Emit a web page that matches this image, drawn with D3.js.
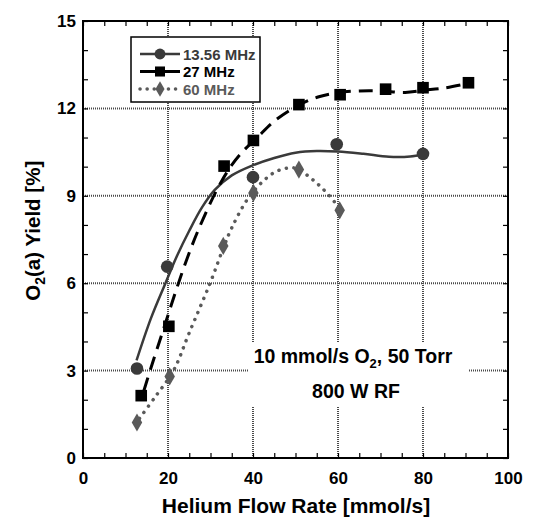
<!DOCTYPE html>
<html>
<head>
<meta charset="utf-8">
<script src="https://cdn.jsdelivr.net/npm/d3@7"></script>
<style>
  body { margin: 0; background: #fff; }
  text { font-family: "Liberation Sans", Arial, sans-serif; font-weight: bold; }
</style>
</head>
<body>
<script>
// 数据：测量点
const flow1356 = [12.7, 19.8, 40, 59.7, 80];
const yield1356 = [3.07, 6.57, 9.64, 10.77, 10.44];
const flow27 = [13.7, 20.2, 33.2, 40.1, 50.8, 60.5, 71.2, 80, 90.7];
const yield27 = [2.14, 4.52, 10.02, 10.9, 12.13, 12.47, 12.66, 12.71, 12.88];
const flow60 = [12.7, 20.4, 33, 40.1, 50.8, 60.4];
const yield60 = [1.22, 2.8, 7.28, 9.1, 9.9, 8.5];

// 数据：拟合曲线
const fitX1356 = [12.6, 16, 19.4, 22, 25, 28, 31, 35, 40, 45, 50, 55, 60, 66, 72, 77, 80];
const fitY1356 = [3.35, 4.8, 6.0, 6.9, 7.8, 8.6, 9.2, 9.7, 10.05, 10.3, 10.48, 10.54, 10.52, 10.44, 10.34, 10.35, 10.42];
const fitX27 = [14.3, 16, 18, 20, 22, 24.5, 27.2, 31.3, 34.5, 37.4, 41, 44.9, 50.6, 55.5, 60, 65, 70, 75.8, 80, 85, 89.4];
const fitY27 = [2.3, 3.1, 4.0, 4.9, 5.8, 6.85, 7.85, 9.15, 9.95, 10.49, 11.0, 11.55, 12.1, 12.4, 12.54, 12.6, 12.6, 12.55, 12.62, 12.7, 12.82];
const fitX60 = [13.3, 17, 21.3, 25, 29.9, 33, 35, 38.6, 42, 45, 48, 50.5, 53.4, 55.5, 57.6, 59.6, 60.5];
const fitY60 = [1.36, 2.1, 3.0, 4.3, 6.0, 7.2, 7.9, 8.86, 9.45, 9.8, 9.95, 9.93, 9.63, 9.37, 9.06, 8.71, 8.5];

// 坐标轴
const xTicks = [0, 20, 40, 60, 80, 100];
const yTicks = [0, 3, 6, 9, 12, 15];
const seriesNames = ['13.56 MHz', '27 MHz', '60 MHz'];
const note1 = '10 mmol/s O';
const note1b = ', 50 Torr';
const note2 = '800 W RF';
const xTitle = 'Helium Flow Rate [mmol/s]';

const width = 541, height = 521;
const margin = {left: 83, right: 33, top: 21, bottom: 63};

const svg = d3.select('body').append('svg')
    .attr('width', width)
    .attr('height', height);

const x = d3.scaleLinear().domain([0, 100]).range([margin.left, width - margin.right]);
const y = d3.scaleLinear().domain([0, 15]).range([height - margin.bottom, margin.top]);

// 网格线
const grid = svg.append('g');
grid.selectAll('.vg')
    .data(xTicks.slice(1, -1))
    .enter()
    .append('line')
    .attr('x1', d => x(d)).attr('x2', d => x(d))
    .attr('y1', y(0)).attr('y2', y(15));
grid.selectAll('.hg')
    .data(yTicks.slice(1, -1))
    .enter()
    .append('line')
    .attr('x1', x(0)).attr('x2', x(100))
    .attr('y1', d => y(d)).attr('y2', d => y(d));
grid.selectAll('line')
    .attr('stroke', '#4a4a4a')
    .attr('stroke-width', 2)
    .attr('stroke-dasharray', '1,1');

// 注释背景
svg.append('rect')
    .attr('x', 248).attr('y', 342)
    .attr('width', 220).attr('height', 65)
    .attr('fill', '#fff');

// 刻度
const fmtX = d => (d % 20 === 0 ? d : '');
const fmtY = d => (d % 3 === 0 ? d : '');
const axB = svg.append('g')
    .attr('transform', `translate(0,${y(0)})`)
    .call(d3.axisBottom(x).tickValues(d3.range(0, 101, 5)).tickSize(-5).tickPadding(14).tickFormat(fmtX));
const axT = svg.append('g')
    .attr('transform', `translate(0,${y(15)})`)
    .call(d3.axisTop(x).tickValues(d3.range(0, 101, 5)).tickSize(-5).tickFormat(''));
const axL = svg.append('g')
    .attr('transform', `translate(${x(0)},0)`)
    .call(d3.axisLeft(y).tickValues(d3.range(0, 16, 1)).tickSize(-5).tickPadding(7).tickFormat(fmtY));
const axR = svg.append('g')
    .attr('transform', `translate(${x(100)},0)`)
    .call(d3.axisRight(y).tickValues(d3.range(0, 16, 1)).tickSize(-5).tickFormat(''));
[axB, axT, axL, axR].forEach(a => {
    a.select('.domain').remove();
    a.selectAll('line').attr('stroke', '#000').attr('stroke-width', 1.2);
    a.selectAll('text').attr('font-size', 17).attr('fill', '#000')
        .style('font-family', '"Liberation Sans", Arial, sans-serif').style('font-weight', 'bold');
});

// 边框
svg.append('rect')
    .attr('x', x(0)).attr('y', y(15))
    .attr('width', x(100) - x(0)).attr('height', y(0) - y(15))
    .attr('fill', 'none')
    .attr('stroke', '#000')
    .attr('stroke-width', 2);

// 曲线
const line = d3.line().x(d => x(d[0])).y(d => y(d[1])).curve(d3.curveCatmullRom);
const series = [
    {fx: fitX1356, fy: fitY1356, px: flow1356, py: yield1356, color: '#3a3a3a', width: 2.5, dash: null, legDash: null, cap: 'butt', shape: d3.symbolCircle, size: 125},
    {fx: fitX27, fy: fitY27, px: flow27, py: yield27, color: '#000', width: 3, dash: '14,8', legDash: '15,10,15', cap: 'butt', shape: d3.symbolSquare, size: 135},
    {fx: fitX60, fy: fitY60, px: flow60, py: yield60, color: '#5a5a5a', width: 3.5, dash: '0.1,7.5', legDash: '0.1,7', cap: 'round', shape: d3.symbolDiamond, size: 95}
];

series.forEach(s => {
    svg.append('path')
        .datum(d3.zip(s.fx, s.fy))
        .attr('d', line)
        .attr('fill', 'none')
        .attr('stroke', s.color)
        .attr('stroke-width', s.width)
        .attr('stroke-linecap', s.cap)
        .attr('stroke-dasharray', s.dash);
});
series.forEach(s => {
    svg.append('g')
        .selectAll('path')
        .data(d3.zip(s.px, s.py))
        .enter()
        .append('path')
        .attr('transform', d => `translate(${x(d[0])},${y(d[1])})`)
        .attr('d', d3.symbol().type(s.shape).size(s.size))
        .attr('fill', s.color);
});

// 图例
const legend = svg.append('g');
legend.append('rect')
    .attr('x', 131).attr('y', 37)
    .attr('width', 129).attr('height', 65)
    .attr('fill', '#fff')
    .attr('stroke', '#000')
    .attr('stroke-width', 1.5);
series.forEach((s, i) => {
    let ly = 54 + i * 17.5;
    legend.append('line')
        .attr('x1', 140).attr('x2', 180)
        .attr('y1', ly).attr('y2', ly)
        .attr('stroke', s.color)
        .attr('stroke-width', s.width)
        .attr('stroke-linecap', s.cap)
        .attr('stroke-dasharray', s.legDash);
    legend.append('path')
        .attr('transform', `translate(160,${ly})`)
        .attr('d', d3.symbol().type(s.shape).size(s.size * 0.75))
        .attr('fill', s.color);
    legend.append('text')
        .attr('x', 183).attr('y', ly + 5.5)
        .attr('font-size', 15)
        .attr('fill', s.color)
        .text(seriesNames[i]);
});

// 注释文字
const t1 = svg.append('text')
    .attr('x', 353).attr('y', 363)
    .attr('text-anchor', 'middle')
    .attr('font-size', 19.5);
t1.append('tspan').text(note1);
t1.append('tspan').attr('dy', 5).attr('font-size', 13).text('2');
t1.append('tspan').attr('dy', -5).text(note1b);
svg.append('text')
    .attr('x', 356).attr('y', 398)
    .attr('text-anchor', 'middle')
    .attr('font-size', 19.5)
    .text(note2);

// 轴标题
svg.append('text')
    .attr('x', 296).attr('y', 513)
    .attr('text-anchor', 'middle')
    .attr('font-size', 21)
    .text(xTitle);
const yt = svg.append('text')
    .attr('transform', `translate(40,${y(7.8)}) rotate(-90)`)
    .attr('text-anchor', 'middle')
    .attr('font-size', 20.5);
yt.append('tspan').text('O');
yt.append('tspan').attr('dy', 5).attr('font-size', 14).text('2');
yt.append('tspan').attr('dy', -5).text('(a) Yield [%]');
</script>
</body>
</html>
